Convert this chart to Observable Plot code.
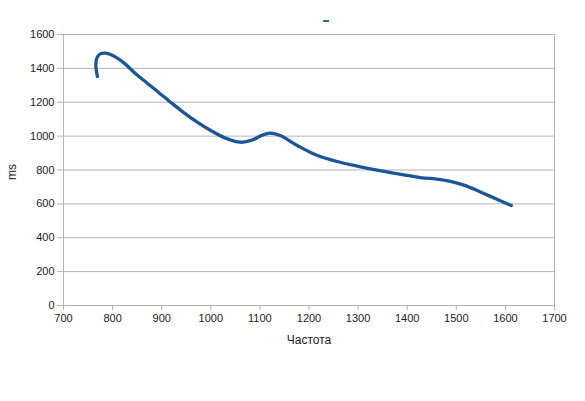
<!DOCTYPE html>
<html>
<head>
<meta charset="utf-8">
<script src="https://cdn.jsdelivr.net/npm/d3@7"></script>
<script src="https://cdn.jsdelivr.net/npm/@observablehq/plot@0.6"></script>
<style>
  html, body { margin: 0; padding: 0; background: #fff; }
  #wrap { position: relative; width: 585px; height: 401px; }
  #swatch { position: absolute; left: 323px; top: 20px; width: 6px; height: 2px; background: #2e7d32; }
</style>
</head>
<body>
<div id="wrap"><div id="swatch"></div></div>
<script>
const freq = [769, 766, 767, 771, 777, 786, 796, 808, 826, 847, 870, 895, 920, 945, 970, 1000, 1030, 1060, 1085, 1105, 1120, 1140, 1176, 1215, 1257, 1300, 1350, 1400, 1430, 1460, 1488, 1520, 1550, 1585, 1612];
const ms   = [1352, 1410, 1452, 1476, 1488, 1490, 1482, 1463, 1425, 1368, 1314, 1255, 1196, 1139, 1087, 1033, 988, 964, 978, 1006, 1018, 1005, 945, 888, 850, 822, 793, 768, 754, 746, 733, 706, 669, 625, 590];
const xTicks = [700, 800, 900, 1000, 1100, 1200, 1300, 1400, 1500, 1600, 1700];
const yTicks = [0, 200, 400, 600, 800, 1000, 1200, 1400, 1600];
const xLabel = "Частота";
const yLabel = "ms";

const data = freq.map((f, i) => ({f, v: ms[i]}));

const chart = Plot.plot({
  width: 585,
  height: 401,
  marginLeft: 63,
  marginRight: 31,
  marginTop: 34,
  marginBottom: 96,
  style: {fontFamily: "'Liberation Sans', Arial, sans-serif", fontSize: "11px", color: "#222", background: "#fff"},
  x: {domain: [700, 1700], ticks: xTicks},
  y: {domain: [0, 1600], ticks: yTicks},
  marks: [
    Plot.ruleY(yTicks, {stroke: "#b3b3b3", strokeWidth: 1}),
    Plot.ruleX([700, 1700], {stroke: "#b3b3b3", strokeWidth: 1}),
    Plot.axisX({ticks: xTicks, tickSize: 5, tickPadding: 4, stroke: "#b3b3b3", fill: "#222", label: null, tickFormat: d => String(d)}),
    Plot.axisY({ticks: yTicks, tickSize: 6, tickPadding: 3, stroke: "#b3b3b3", fill: "#222", label: null, tickFormat: d => String(d)}),
    Plot.line(data, {x: "f", y: "v", curve: "catmull-rom", stroke: "#1b5794", strokeWidth: 3.3}),
    Plot.text([xLabel], {frameAnchor: "bottom", dy: 38, text: d => d, fontSize: 12, fill: "#222"}),
    Plot.text([yLabel], {frameAnchor: "left", dx: -51, dy: 10, rotate: -90, text: d => d, fontSize: 12, fill: "#222"})
  ]
});
document.getElementById("wrap").prepend(chart);
chart.style.position = "absolute";
chart.style.left = "0";
chart.style.top = "0";
</script>
</body>
</html>
